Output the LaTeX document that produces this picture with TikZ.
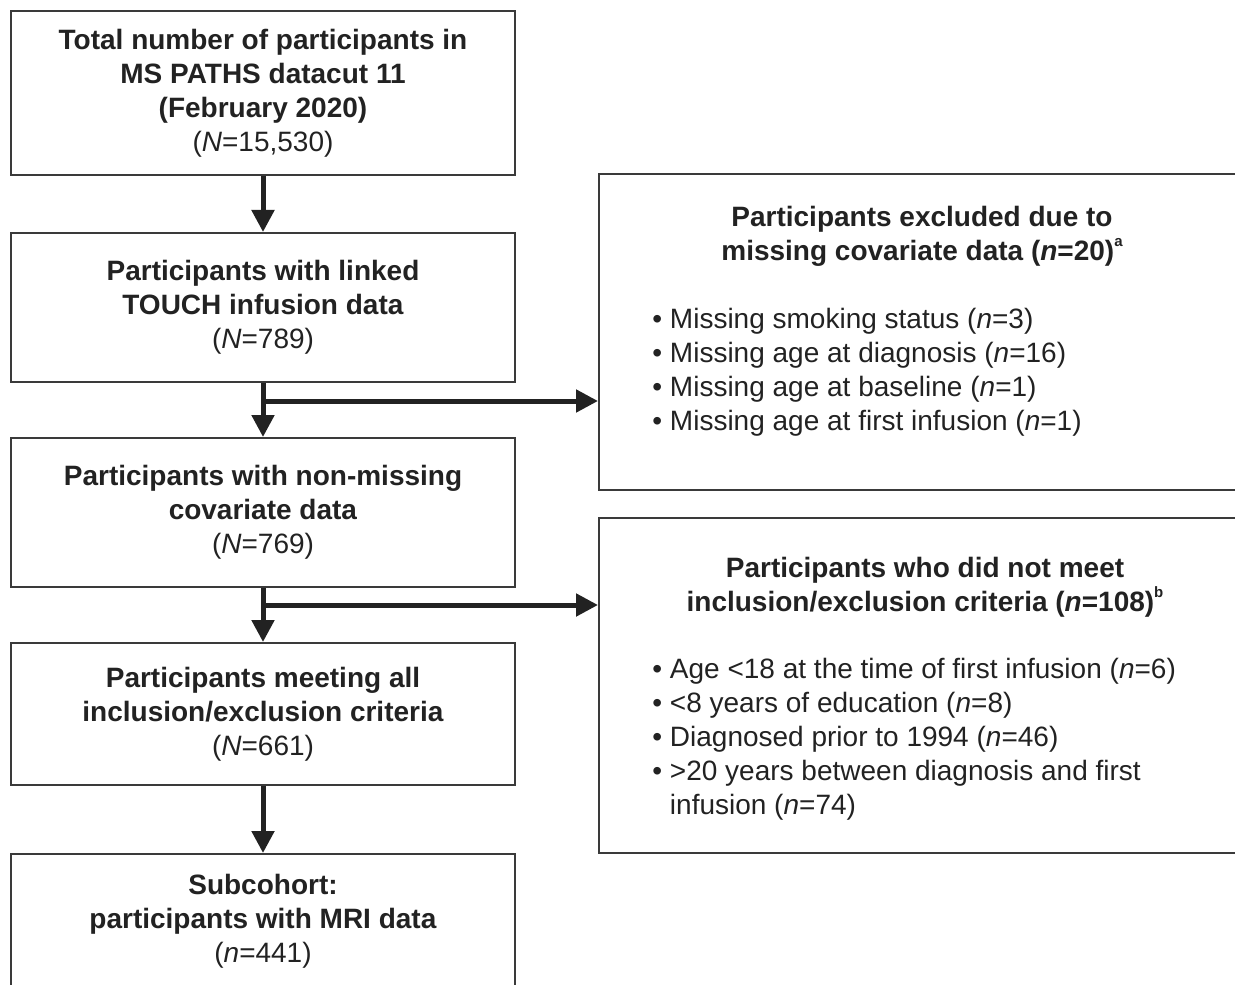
\documentclass[tikz,border=0pt]{standalone}
\usepackage{fontspec}
\setmainfont{Liberation Sans}
\usepackage{xcolor}
\usetikzlibrary{arrows.meta,positioning}
\definecolor{boxline}{HTML}{3A3A3A}
\definecolor{inkgray}{HTML}{222222}
\newcommand{\footmark}[1]{\raisebox{0.5em}{\fontsize{7.5}{7.5}\selectfont\bfseries #1}}

\begin{document}
\begin{tikzpicture}[x=0.5pt, y=-0.5pt, >={Triangle[width=11pt,length=11pt]},
    font=\fontsize{14}{17}\selectfont, text=inkgray,
    flowbox/.style={draw=boxline, line width=1pt, minimum width=252pt, align=center, inner sep=0pt},
    sidebox/.style={draw=boxline, line width=1pt, minimum width=320.5pt, inner sep=0pt},
    arrowline/.style={draw=inkgray, line width=2.5pt}]
    \useasboundingbox (0,0) rectangle (1235,984);
    \clip (0,0) rectangle (1235,984);

    % Main column
    \node [flowbox, minimum height=82pt] (total) at (263,93)
        {\textbf{Total number of participants in}\\\textbf{MS PATHS datacut 11}\\\textbf{(February 2020)}\\(\textit{N}=15,530)};
    \node [flowbox, minimum height=74.5pt] (linked) at (263,307.5)
        {\textbf{Participants with linked}\\\textbf{TOUCH infusion data}\\(\textit{N}=789)};
    \node [flowbox, minimum height=74.5pt] (nonmissing) at (263,512.5)
        {\textbf{Participants with non-missing}\\\textbf{covariate data}\\(\textit{N}=769)};
    \node [flowbox, minimum height=71pt] (meeting) at (263,714)
        {\textbf{Participants meeting all}\\\textbf{inclusion/exclusion criteria}\\(\textit{N}=661)};
    \node [flowbox, minimum height=67pt] (subcohort) at (263,921)
        {\textbf{Subcohort:}\\\textbf{participants with MRI data}\\(\textit{n}=441)};

    % Exclusion boxes
    \node [sidebox, minimum height=158pt] (missing) at (919.5,332) {};
    \node [align=center, inner sep=0pt] (missingtitle) at (922,236)
        {\textbf{Participants excluded due to}\\\textbf{missing covariate data (\textit{n}=20)}\footmark{a}};
    \node [align=left, anchor=west, inner sep=0pt] (missinglist) at (652,372)
        {• Missing smoking status (\textit{n}=3)\\• Missing age at diagnosis (\textit{n}=16)\\• Missing age at baseline (\textit{n}=1)\\• Missing age at first infusion (\textit{n}=1)};

    \node [sidebox, minimum height=167.5pt] (criteria) at (919.5,685.5) {};
    \node [align=center, inner sep=0pt] (criteriatitle) at (925,587)
        {\textbf{Participants who did not meet}\\\textbf{inclusion/exclusion criteria (\textit{n}=108)}\footmark{b}};
    \node [align=left, anchor=west, inner sep=0pt] (criterialist) at (652,739.5)
        {• Age <18 at the time of first infusion (\textit{n}=6)\\• <8 years of education (\textit{n}=8)\\• Diagnosed prior to 1994 (\textit{n}=46)\\• >20 years between diagnosis and first\\\phantom{• }infusion (\textit{n}=74)};

    % Connectors
    \coordinate (split1) at (263,401);
    \coordinate (split2) at (263,605);
    \draw [arrowline, ->] (total) -- (linked);
    \draw [arrowline, ->] (linked) -- (nonmissing);
    \draw [arrowline, ->] (nonmissing) -- (meeting);
    \draw [arrowline, ->] (meeting) -- (subcohort);
    \draw [arrowline, ->] (split1) -- (split1 -| missing.west);
    \draw [arrowline, ->] (split2) -- (split2 -| criteria.west);
\end{tikzpicture}
\end{document}
